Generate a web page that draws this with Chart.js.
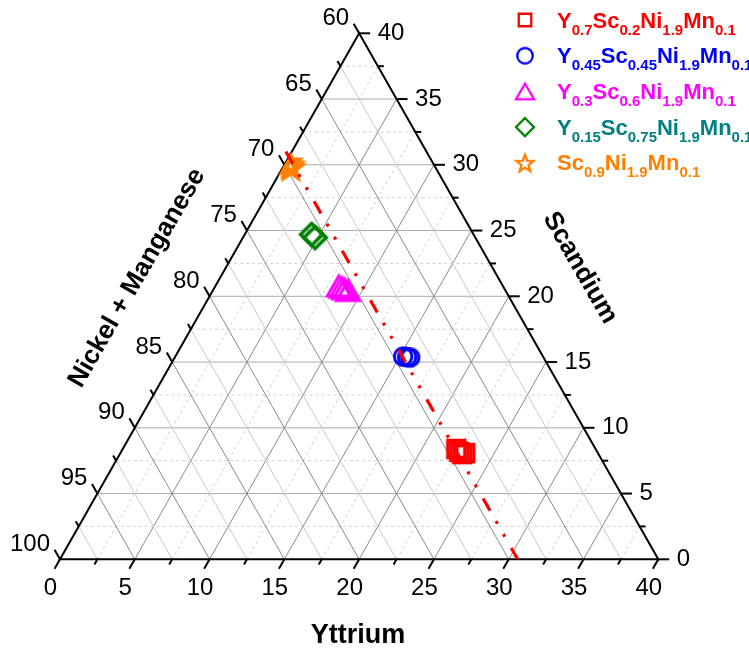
<!DOCTYPE html>
<html><head><meta charset="utf-8">
<style>html,body{margin:0;padding:0;background:#fff;overflow:hidden}</style>
<script src="https://cdn.jsdelivr.net/npm/chart.js@4.4.1/dist/chart.umd.min.js"></script>
</head><body>
<canvas id="c" width="749" height="650" style="display:block;width:749px;height:650px"></canvas>
<script>
// ---------- data (percent of cations) ----------
const yttriumTicks = [0, 5, 10, 15, 20, 25, 30, 35, 40];
const scandiumTicks = [0, 5, 10, 15, 20, 25, 30, 35, 40];
const nickelManganeseTicks = [60, 65, 70, 75, 80, 85, 90, 95, 100];

const seriesNames = ['Y0.7Sc0.2Ni1.9Mn0.1', 'Y0.45Sc0.45Ni1.9Mn0.1', 'Y0.3Sc0.6Ni1.9Mn0.1', 'Y0.15Sc0.75Ni1.9Mn0.1', 'Sc0.9Ni1.9Mn0.1'];
const markerColors = ['#FF0000', '#0000FF', '#FF00FF', '#008000', '#FF8000'];
const textColors = ['#FF0000', '#0000FF', '#FF00FF', '#008080', '#FF8000'];
const markerShapes = ['square', 'circle', 'triangle', 'diamond', 'star'];

// measured compositions (Yttrium %, Scandium %); Ni+Mn = 100 - Y - Sc
const y070Yttrium = [22.30, 22.61, 22.89, 23.05];
const y070Scandium = [8.39, 8.16, 8.00, 8.08];
const y045Yttrium = [15.23, 15.52, 15.74];
const y045Scandium = [15.42, 15.38, 15.35];
const y030Yttrium = [8.25, 8.50, 8.75, 9.04];
const y030Scandium = [20.78, 20.67, 20.56, 20.44];
const y015Yttrium = [4.47, 4.82];
const y015Scandium = [24.70, 24.47];
const y000Yttrium = [0.14, 0.39, 0.55];
const y000Scandium = [30.21, 29.99, 29.79];

// guide line (constant Ni+Mn)
const guideYttrium = [-0.4, 30.6];
const guideScandium = [31.0, 0];

// ---------- helpers ----------
const FONT = "'Liberation Sans', Arial, Helvetica, sans-serif";
const toXY = (Y, Sc) => ({ x: Y + Sc / 2, y: Sc });

function markerCanvas(shape, size, color, lw) {
  const pad = Math.ceil(lw) + 2;
  let dim = Math.ceil(size + 2 * pad);
  if (dim % 2) dim++;
  const cv = document.createElement('canvas');
  cv.width = dim; cv.height = dim;
  const g = cv.getContext('2d');
  const c = dim / 2, r = size / 2;
  g.strokeStyle = color; g.lineWidth = lw; g.lineJoin = 'miter';
  g.beginPath();
  if (shape === 'square') {
    g.rect(c - r, c - r, 2 * r, 2 * r);
  } else if (shape === 'circle') {
    g.arc(c, c, r, 0, Math.PI * 2);
  } else if (shape === 'triangle') {
    const h = size * Math.sqrt(3) / 2;
    g.moveTo(c, c - h / 2); g.lineTo(c + r, c + h / 2); g.lineTo(c - r, c + h / 2); g.closePath();
  } else if (shape === 'diamond') {
    g.moveTo(c, c - r); g.lineTo(c + r, c); g.lineTo(c, c + r); g.lineTo(c - r, c); g.closePath();
  } else if (shape === 'star') {
    for (let i = 0; i < 10; i++) {
      const a = -Math.PI / 2 + i * Math.PI / 5;
      const rr = (i % 2) ? r * 0.42 : r;
      const px = c + rr * Math.cos(a), py = c + 1 + rr * Math.sin(a);
      if (i === 0) g.moveTo(px, py); else g.lineTo(px, py);
    }
    g.closePath();
  }
  g.stroke();
  return cv;
}

const plotMarkerSizes = { square: 17, circle: 17.5, triangle: 23, diamond: 22, star: 24 };
const plotMarkerWidths = { square: 3.4, circle: 3, triangle: 3, diamond: 3.6, star: 3.6 };
const legendMarkerSizes = { square: 12.5, circle: 15.5, triangle: 18, diamond: 18, star: 18 };

const seriesData = [
  [y070Yttrium, y070Scandium],
  [y045Yttrium, y045Scandium],
  [y030Yttrium, y030Scandium],
  [y015Yttrium, y015Scandium],
  [y000Yttrium, y000Scandium]
];

const datasets = [{
  label: 'guide',
  data: guideYttrium.map((v, i) => toXY(v, guideScandium[i])),
  showLine: true,
  borderColor: '#FF0000',
  borderWidth: 3.2,
  borderDash: [14, 12, 3, 12, 3, 13],
  borderCapStyle: 'butt',
  pointRadius: 0,
  fill: false,
  tension: 0
}];
seriesData.forEach((s, k) => {
  const shape = markerShapes[k];
  datasets.push({
    label: seriesNames[k],
    data: s[0].map((v, i) => toXY(v, s[1][i])),
    showLine: false,
    pointStyle: markerCanvas(shape, plotMarkerSizes[shape], markerColors[k], plotMarkerWidths[shape]),
    pointRadius: 10,
    borderColor: markerColors[k],
    backgroundColor: 'transparent'
  });
});
const legendMarkers = markerShapes.map((sh, k) => markerCanvas(sh, legendMarkerSizes[sh], markerColors[k], 2.3));

function geom(chart) {
  const xs = chart.scales.x, ys = chart.scales.y;
  return (Y, Sc) => [xs.getPixelForValue(Y + Sc / 2), ys.getPixelForValue(Sc)];
}
function unit(a, b) { const dx = b[0] - a[0], dy = b[1] - a[1]; const l = Math.hypot(dx, dy); return [dx / l, dy / l]; }
function seg(ctx, a, b, color, w, dash) {
  ctx.save();
  ctx.strokeStyle = color; ctx.lineWidth = w; ctx.setLineDash(dash || []);
  ctx.beginPath(); ctx.moveTo(a[0], a[1]); ctx.lineTo(b[0], b[1]); ctx.stroke();
  ctx.restore();
}
function trianglePath(ctx, P) {
  const A = P(0, 0), B = P(40, 0), C = P(0, 40);
  ctx.beginPath(); ctx.moveTo(A[0], A[1]); ctx.lineTo(B[0], B[1]); ctx.lineTo(C[0], C[1]); ctx.closePath();
}
function withMinor(ticks) {
  const out = [];
  for (let i = 0; i < ticks.length; i++) {
    out.push({ v: ticks[i], major: true });
    if (i < ticks.length - 1) out.push({ v: (ticks[i] + ticks[i + 1]) / 2, major: false });
  }
  return out;
}

const ternaryPlugin = {
  id: 'ternary',
  beforeDatasetsDraw(chart) {
    const ctx = chart.ctx, P = geom(chart);
    const yT = withMinor(yttriumTicks), sT = withMinor(scandiumTicks);
    const nT = withMinor(nickelManganeseTicks).map(t => ({ v: 100 - t.v, major: t.major, label: t.v }));
    // grid
    sT.forEach(t => { const c = t.v; if (c <= 0 || c >= 40) return;
      seg(ctx, P(0, c), P(40 - c, c), t.major ? '#ABABAB' : '#CFCFCF', 1, t.major ? [] : [3, 3]); });
    yT.forEach(t => { const a = t.v; if (a <= 0 || a >= 40) return;
      seg(ctx, P(a, 0), P(a, 40 - a), t.major ? '#8A8A8A' : '#CFCFCF', 1, t.major ? [] : [3, 3]); });
    nT.forEach(t => { const s = t.v; if (s <= 0 || s >= 40) return;
      seg(ctx, P(s, 0), P(0, s), t.major ? '#8A8A8A' : '#C8C8C8', 1, []); });
    // border
    ctx.save();
    ctx.strokeStyle = '#000'; ctx.lineWidth = 2; ctx.lineJoin = 'miter';
    trianglePath(ctx, P); ctx.stroke();
    ctx.restore();
    // ticks
    const dBottom = unit(P(0, 40), P(0, 0));
    const dLeft = unit(P(40, 0), P(0, 40));
    const dRight = unit(P(0, 0), P(40, 0));
    const tick = (p, d, major) => { const L = major ? 11 : 6;
      seg(ctx, p, [p[0] + d[0] * L, p[1] + d[1] * L], '#000', 2, []); };
    yT.forEach(t => tick(P(t.v, 0), dBottom, t.major));
    sT.forEach(t => tick(P(40 - t.v, t.v), dRight, t.major));
    nT.forEach(t => tick(P(0, t.v), dLeft, t.major));
    // tick labels
    ctx.save();
    ctx.fillStyle = '#000';
    ctx.font = '24px ' + FONT;
    ctx.textBaseline = 'middle';
    ctx.textAlign = 'center';
    yT.filter(t => t.major).forEach(t => { const p = P(t.v, 0); ctx.fillText(String(t.v), p[0] - 9.5, p[1] + 29); });
    ctx.textAlign = 'left';
    sT.filter(t => t.major).forEach(t => { const p = P(40 - t.v, t.v); ctx.fillText(String(t.v), p[0] + 18.5, p[1]); });
    ctx.textAlign = 'right';
    nT.filter(t => t.major).forEach(t => { const p = P(0, t.v); ctx.fillText(String(t.label), p[0] - 10, p[1] - 15); });
    // axis titles
    ctx.font = 'bold 27px ' + FONT;
    ctx.textAlign = 'center'; ctx.textBaseline = 'alphabetic';
    ctx.fillText('Yttrium', 358, 643);
    ctx.font = 'bold 26px ' + FONT;
    ctx.textBaseline = 'middle';
    ctx.save(); ctx.translate(580, 268); ctx.rotate(Math.PI / 3); ctx.fillText('Scandium', 0, 0); ctx.restore();
    ctx.save(); ctx.translate(137, 278); ctx.rotate(-Math.PI / 3); ctx.fillText('Nickel + Manganese', 0, 0); ctx.restore();
    ctx.restore();
  },
  beforeDatasetDraw(chart, args) {
    if (args.index === 0) return;
    const ctx = chart.ctx, P = geom(chart);
    ctx.save(); trianglePath(ctx, P); ctx.clip();
  },
  afterDatasetDraw(chart, args) {
    if (args.index === 0) return;
    chart.ctx.restore();
  },
  afterDraw(chart) {
    const ctx = chart.ctx;
    ctx.save();
    seriesNames.forEach((name, k) => {
      const cy = 20 + k * 35.7;
      const m = legendMarkers[k];
      ctx.drawImage(m, 525 - m.width / 2, cy - m.height / 2);
      let x = 557;
      const base = cy + 7.5;
      ctx.fillStyle = textColors[k];
      ctx.textAlign = 'left'; ctx.textBaseline = 'alphabetic';
      const re = /([A-Z][a-z]?)([\d.]+)/g; let mm;
      while ((mm = re.exec(name)) !== null) {
        ctx.font = 'bold 22px ' + FONT;
        ctx.fillText(mm[1], x, base); x += ctx.measureText(mm[1]).width;
        ctx.font = 'bold 15px ' + FONT;
        ctx.fillText(mm[2], x, base + 7); x += ctx.measureText(mm[2]).width;
      }
    });
    ctx.restore();
  }
};

new Chart(document.getElementById('c'), {
  type: 'scatter',
  data: { datasets },
  options: {
    responsive: false,
    animation: false,
    events: [],
    layout: { padding: { left: 60, right: 90.7, top: 33.3, bottom: 90.7 } },
    plugins: { legend: { display: false }, tooltip: { enabled: false } },
    scales: {
      x: { type: 'linear', min: 0, max: 40, display: false },
      y: { type: 'linear', min: 0, max: 40, display: false }
    }
  },
  plugins: [ternaryPlugin]
});
</script>
</body></html>
